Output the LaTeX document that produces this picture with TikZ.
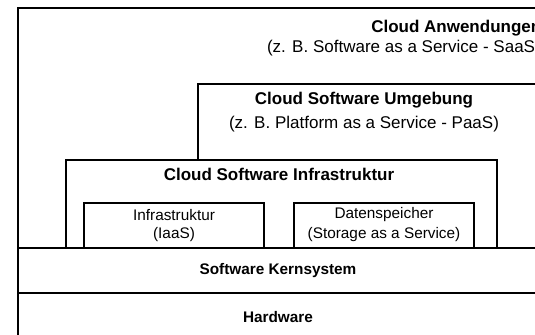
\documentclass[tikz,border=0pt]{standalone}
\usepackage{fontspec}
\setmainfont{Liberation Sans}
\usetikzlibrary{positioning}

\begin{document}
\begin{tikzpicture}[x=0.75pt ,y=-0.75pt ,line width=1.9pt ,node distance =15pt ,on grid ,
layer/.style ={draw ,fill =white},
bigtitle/.style ={font=\fontsize{12.75}{15}\selectfont\bfseries ,inner sep =0pt},
bignote/.style ={font=\fontsize{12.75}{15}\selectfont ,inner sep =0pt},
smalltext/.style ={font=\fontsize{11.5}{14}\selectfont ,inner sep =0pt},
smalltitle/.style ={font=\fontsize{11.5}{14}\selectfont\bfseries ,inner sep =0pt}]
\useasboundingbox (0,0) rectangle (535,335);
\clip (0,0) rectangle (535,335);

% layers
\draw[layer] (18,8) rectangle (538,345);
\draw[layer] (198,84) rectangle (541,248);
\draw[layer] (66,160) rectangle (497,248);
\draw[layer] (84,203) rectangle (264,248);
\draw[layer] (294,203) rectangle (474,248);
\draw[layer] (18,248) rectangle (538,293);

% texts
\node[bigtitle ,anchor=west] (SaaSTitle) at (370,28) {Cloud Anwendungen};
\node[bignote ,anchor=east] (SaaSNote) at (542,48) {(z. B. Software as a Service - SaaS)};
\node[bigtitle] (PaaSTitle) at (364,100) {Cloud Software Umgebung};
\node[bignote] (PaaSNote) [below=18pt of PaaSTitle] {(z. B. Platform as a Service - PaaS)};
\node[bigtitle] (InfraTitle) at (279,174) {Cloud Software Infrastruktur};
\node[smalltext] (IaaSTitle) at (174,215) {Infrastruktur};
\node[smalltext] (IaaSNote) [below=of IaaSTitle] {(IaaS)};
\node[smalltext] (StorageTitle) at (384,215) {Datenspeicher};
\node[smalltext] (StorageNote) [below=of StorageTitle] {(Storage as a Service)};
\node[smalltitle] (Kernel) at (278,271) {Software Kernsystem};
\node[smalltitle] (Hardware) at (278,317) {Hardware};
\end{tikzpicture}
\end{document}
